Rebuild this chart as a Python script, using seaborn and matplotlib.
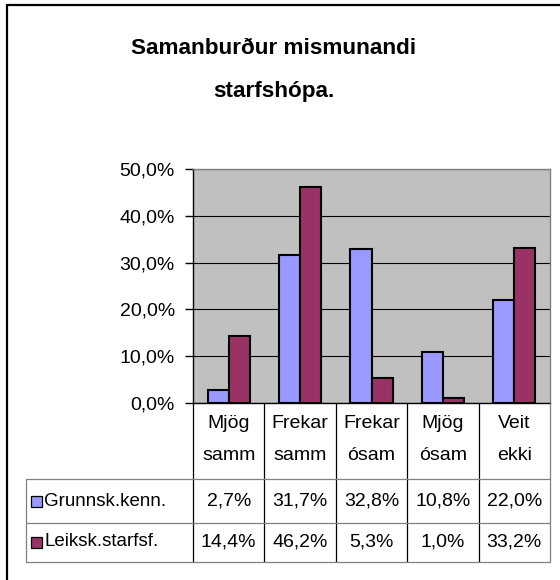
import matplotlib
matplotlib.use("Agg")
import matplotlib.pyplot as plt
import matplotlib.transforms as mtransforms
from matplotlib.patches import Rectangle
from matplotlib.lines import Line2D
import seaborn as sns
import pandas as pd

# ---- data ----
categories = ["Mjög\nsamm", "Frekar\nsamm", "Frekar\nósam", "Mjög\nósam", "Veit\nekki"]
series_names = ["Grunnsk.kenn.", "Leiksk.starfsf."]
grunnsk = [2.7, 31.7, 32.8, 10.8, 22.0]
leiksk = [14.4, 46.2, 5.3, 1.0, 33.2]
yticks = [0, 10, 20, 30, 40, 50]
title_lines = ["Samanburður mismunandi", "starfshópa."]

colors = ["#9999FF", "#993366"]

sns.set_theme(style="white")
plt.rcParams["font.family"] = ["Liberation Sans", "DejaVu Sans"]

W, H = 560, 580
fig = plt.figure(figsize=(W / 100, H / 100), dpi=100)
fig.patch.set_facecolor("white")

FS = 14


def fx(px):
    return px / W


def fy(py):
    return 1 - py / H


L, R, T, B = 193, 550, 169, 403
ax = fig.add_axes([fx(L), fy(B), fx(R - L), (B - T) / H])

df = pd.DataFrame({
    "cat": categories * 2,
    "val": grunnsk + leiksk,
    "series": [series_names[0]] * len(categories) + [series_names[1]] * len(categories),
})
sns.barplot(data=df, x="cat", y="val", hue="series", hue_order=series_names,
            palette=colors, width=0.59, edgecolor="black", linewidth=1.5,
            saturation=1, ax=ax, legend=False)

ax.set_facecolor("#C0C0C0")
ax.set_xlim(-0.5, len(categories) - 0.5)
ax.set_ylim(0, 50)
ax.set_yticks(yticks)
ax.set_yticklabels([f"{v:.1f}%".replace(".", ",") for v in yticks])
ax.set_xticks([])
ax.set_xlabel("")
ax.set_ylabel("")
ax.yaxis.grid(True, color="black", linewidth=0.8)
ax.set_axisbelow(True)
ax.tick_params(axis="y", direction="out", length=6, width=1, color="black",
               labelsize=FS, pad=7, left=True, labelcolor="black")
for side in ["left", "bottom"]:
    ax.spines[side].set_color("black")
    ax.spines[side].set_linewidth(1)
for side in ["top", "right"]:
    ax.spines[side].set_color("#808080")
    ax.spines[side].set_linewidth(1)

# ---- title ----
fig.text(fx(274), fy(49), title_lines[0], ha="center", va="center",
         fontsize=16.2, fontweight="bold", color="black")
fig.text(fx(274), fy(91), title_lines[1], ha="center", va="center",
         fontsize=16.2, fontweight="bold", color="black")

# ---- outer frame (left and top visible) ----
fig.add_artist(Line2D([fx(7), fx(7)], [fy(5), fy(600)], color="black", lw=1.6,
                      transform=fig.transFigure))
fig.add_artist(Line2D([fx(7), fx(600)], [fy(5), fy(5)], color="black", lw=1.6,
                      transform=fig.transFigure))

# ---- data table ----
trans = mtransforms.blended_transform_factory(ax.transData, fig.transFigure)
row_top, row_mid, row_bot = 479, 523, 562
n = len(categories)

# vertical column lines
for i in range(n + 1):
    col = "#808080" if i == n else "black"
    fig.add_artist(Line2D([i - 0.5, i - 0.5], [fy(B), fy(row_bot)], color=col,
                          lw=0.9, transform=trans))
# horizontal lines
for yy in [row_top, row_mid, row_bot]:
    fig.add_artist(Line2D([fx(26), fx(R)], [fy(yy), fy(yy)], color="#808080",
                          lw=0.9, transform=fig.transFigure))
fig.add_artist(Line2D([fx(26), fx(26)], [fy(row_top), fy(row_bot)], color="#808080",
                      lw=0.9, transform=fig.transFigure))

# category labels
for i, c in enumerate(categories):
    l1, l2 = c.split("\n")
    fig.text(i, fy(424), l1, transform=trans, ha="center", va="center",
             fontsize=FS, color="black")
    fig.text(i, fy(456), l2, transform=trans, ha="center", va="center",
             fontsize=FS, color="black")

# value rows
row_centers = [501, 542]
for r, (name, vals) in enumerate(zip(series_names, [grunnsk, leiksk])):
    yc = row_centers[r]
    fig.add_artist(Rectangle((fx(31), fy(yc + 5.5)), fx(11), 11 / H,
                             facecolor=colors[r], edgecolor="black", lw=0.9,
                             transform=fig.transFigure))
    fig.text(fx(44), fy(yc), name, ha="left", va="center", fontsize=13.5,
             color="black")
    for i, v in enumerate(vals):
        fig.text(i, fy(yc), f"{v:.1f}%".replace(".", ","), transform=trans,
                 ha="center", va="center", fontsize=FS, color="black")

fig.savefig("out.png", dpi=100)
